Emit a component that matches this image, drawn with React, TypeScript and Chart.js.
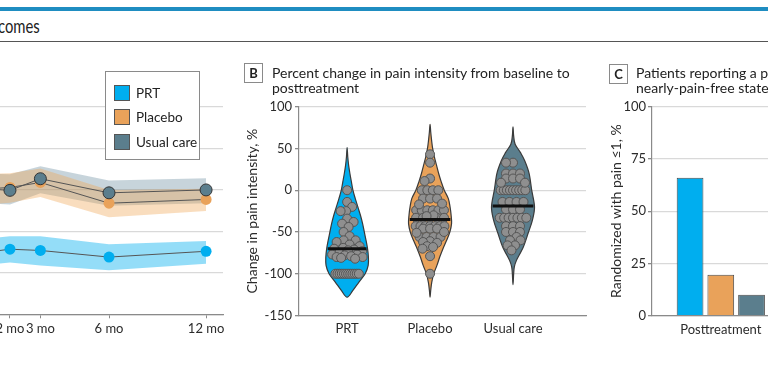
import React, { useEffect, useRef } from 'react';
import { Chart, registerables } from 'chart.js';
Chart.register(...registerables);

const FONT = "Lato, 'Liberation Sans', Arial, sans-serif";
const C_PRT = '#00aeef';
const C_PLA = '#e9a25a';
const C_USU = '#5b7e8d';
const GRID = '#d9d9d9';
const AXIS = '#8a8a8a';
const TXT = '#2b2b2b';

// ---------- Panel A: pain intensity over time ----------
const timeMonths = [1, 2, 3, 6, 12];
const axisMonths = [2, 3, 6, 12];
const axisLabels = ['2 mo', '3 mo', '6 mo', '12 mo'];
const prtMean = [1.45, 1.57, 1.54, 1.38, 1.52];
const prtLow = [1.15, 1.25, 1.18, 1.06, 1.22];
const prtHigh = [1.8, 1.88, 1.88, 1.69, 1.77];
const placeboMean = [3.0, 3.06, 3.18, 2.68, 2.77];
const placeboLow = [2.62, 2.69, 2.83, 2.34, 2.49];
const placeboHigh = [3.38, 3.4, 3.52, 3.0, 3.03];
const usualMean = [3.05, 2.99, 3.27, 2.93, 3.0];
const usualLow = [2.7, 2.65, 2.92, 2.62, 2.68];
const usualHigh = [3.4, 3.38, 3.57, 3.23, 3.28];

// ---------- Panel B: percent change violins ----------
const groupNames = ['PRT', 'Placebo', 'Usual care'];
const prtChange = [0, -14, -20, -25, -25, -34, -38, -40, -44, -50, -55, -60, -60, -62, -65, -67, -69, -70, -71, -72, -73, -75, -77, -77, -78, -79, -80, -80, -81, -82,
  -100, -100, -100, -100, -100, -100, -100, -100, -100, -100, -100, -100];
const placeboChange = [43, 33, 14, 11, 0, 0, 0, 0, -10, -10, -10, -16, -17, -24, -24, -24, -24, -24, -24, -30, -31,
  -33, -33, -33, -33, -33, -43, -43, -43, -43, -43, -43, -43, -46, -46, -46, -50, -51, -56, -56, -56, -56,
  -61, -62, -63, -67, -68, -70, -79, -100];
const usualChange = [33, 33, 20, 20, 20, 14, 14, 14, 9, 9, 0, 0, 0, 0, 0, 0, 0, 0, 0, -14, -14, -14, -14, -23, -23, -23,
  -33, -33, -33, -33, -33, -33, -33, -43, -43, -43, -50, -50, -50, -56, -60, -60, -66, -66, -72];
const changeMedians = [-70, -35, -19];
const prtDensY = [51, 40, 30, 20, 10, 0, -10, -20, -30, -40, -50, -60, -70, -80, -90, -100, -110, -120, -128];
const prtDens = [0, 0.03, 0.07, 0.13, 0.2, 0.27, 0.38, 0.5, 0.62, 0.72, 0.8, 0.88, 0.95, 0.99, 0.98, 0.84, 0.55, 0.27, 0];
const placeboDensY = [79, 70, 60, 50, 40, 30, 20, 10, 0, -10, -20, -30, -40, -50, -60, -70, -80, -90, -100, -110, -120, -128];
const placeboDens = [0, 0.03, 0.07, 0.12, 0.2, 0.3, 0.4, 0.52, 0.66, 0.85, 0.93, 0.98, 1.0, 0.92, 0.77, 0.6, 0.45, 0.32, 0.17, 0.08, 0.03, 0];
const usualDensY = [76, 65, 55, 45, 35, 20, 0, -20, -36, -51, -68, -84, -92, -100, -113];
const usualDens = [0, 0.03, 0.1, 0.35, 0.55, 0.75, 0.87, 1.0, 0.9, 0.71, 0.48, 0.16, 0.06, 0.03, 0];

// ---------- Panel C: pain-free bars ----------
const pfCategories = ['Posttreatment'];
const pfPRT = [66];
const pfPlacebo = [19.5];
const pfUsual = [10];

const VIOLIN_HALF = 21.5;
const DOT_R = 4.5;

function interp(xs: number[], ys: number[], v: number) {
  if (v >= xs[0]) return ys[0];
  if (v <= xs[xs.length - 1]) return ys[ys.length - 1];
  for (let i = 0; i < xs.length - 1; i++) {
    if (v <= xs[i] && v >= xs[i + 1]) {
      const t = (xs[i] - v) / (xs[i] - xs[i + 1]);
      return ys[i] + t * (ys[i + 1] - ys[i]);
    }
  }
  return 0;
}

function swarm(values: number[], yPix: (v: number) => number, halfW: (v: number) => number, r: number, D: number) {
  const counts = new Map<number, number>();
  values.forEach((v) => counts.set(v, (counts.get(v) || 0) + 1));
  const placed: { x: number; y: number }[] = [];
  counts.forEach((n, v) => {
    if (n < 3) return;
    const yy = yPix(v);
    const spread = Math.min(D * (n - 1), Math.max(0, 2 * (0.9 * halfW(v) - r)));
    for (let i = 0; i < n; i++) placed.push({ x: -spread / 2 + (spread * i) / (n - 1), y: yy });
  });
  const singles = values.filter((v) => (counts.get(v) as number) < 3).sort((a, b) => b - a);
  singles.forEach((v, idx) => {
    const yy = yPix(v);
    const lim = Math.max(0, 0.95 * halfW(v) - r);
    let best = 0;
    let bestScore = -1;
    let found = false;
    const sgn = idx % 2 === 0 ? 1 : -1;
    for (let s = 0; s <= lim + 1e-6 && !found; s += 0.5) {
      for (const c of s === 0 ? [0] : [sgn * s, -sgn * s]) {
        let score = Infinity;
        for (const p of placed) score = Math.min(score, Math.hypot(p.x - c, p.y - yy));
        if (score >= D) { best = c; found = true; break; }
        if (score > bestScore) { bestScore = score; best = c; }
      }
    }
    placed.push({ x: best, y: yy });
  });
  return placed;
}

const violinPlugin = {
  id: 'violins',
  afterDatasetsDraw(chart: any) {
    const { ctx, scales } = chart;
    const xs = scales.x;
    const ys = scales.y;
    const groups = [
      { vals: prtChange, dy: prtDensY, d: prtDens, color: C_PRT },
      { vals: placeboChange, dy: placeboDensY, d: placeboDens, color: C_PLA },
      { vals: usualChange, dy: usualDensY, d: usualDens, color: C_USU },
    ];
    ctx.save();
    groups.forEach((g, gi) => {
      const cx = xs.getPixelForValue(gi + 1);
      const hw = (v: number) => interp(g.dy, g.d, v) * VIOLIN_HALF;
      const right = g.dy.map((v, i) => [cx + g.d[i] * VIOLIN_HALF, ys.getPixelForValue(v)]);
      const left = g.dy.slice(1, -1).map((v, i) => [cx - g.d[i + 1] * VIOLIN_HALF, ys.getPixelForValue(v)]).reverse();
      const P = right.concat(left);
      const n = P.length;
      ctx.beginPath();
      ctx.moveTo(P[0][0], P[0][1]);
      for (let i = 0; i < n; i++) {
        const p0 = P[(i - 1 + n) % n], p1 = P[i], p2 = P[(i + 1) % n], p3 = P[(i + 2) % n];
        const c1x = p1[0] + (p2[0] - p0[0]) / 6, c1y = p1[1] + (p2[1] - p0[1]) / 6;
        const c2x = p2[0] - (p3[0] - p1[0]) / 6, c2y = p2[1] - (p3[1] - p1[1]) / 6;
        ctx.bezierCurveTo(c1x, c1y, c2x, c2y, p2[0], p2[1]);
      }
      ctx.closePath();
      ctx.fillStyle = g.color;
      ctx.fill();
      ctx.lineWidth = 1.2;
      ctx.strokeStyle = '#3a3a3a';
      ctx.stroke();

      const dots = swarm(g.vals, (v) => ys.getPixelForValue(v), hw, DOT_R, 7);
      dots.forEach((p) => {
        ctx.beginPath();
        ctx.arc(cx + p.x, p.y, DOT_R, 0, Math.PI * 2);
        ctx.fillStyle = '#8f8f8f';
        ctx.fill();
        ctx.lineWidth = 1;
        ctx.strokeStyle = '#555';
        ctx.stroke();
      });

      const m = changeMedians[gi];
      const mw = hw(m) - 1;
      const my = ys.getPixelForValue(m);
      ctx.beginPath();
      ctx.moveTo(cx - mw, my);
      ctx.lineTo(cx + mw, my);
      ctx.lineWidth = 3;
      ctx.strokeStyle = '#111';
      ctx.stroke();
    });
    ctx.restore();
  },
};

const tickFont = { family: FONT, size: 13 };
const labFont = { family: FONT, size: 13 };
const titleFont = { family: FONT, size: 14 };

function PanelA() {
  const ref = useRef<HTMLCanvasElement>(null);
  useEffect(() => {
    const H = 389;
    const pts = (arr: number[]) => timeMonths.map((m, i) => ({ x: Math.sqrt(m), y: arr[i] }));
    const band = (arr: number[], fill: any, bg: string) => ({
      data: pts(arr), fill, backgroundColor: bg, borderWidth: 0, pointRadius: 0, borderColor: 'rgba(0,0,0,0)',
    });
    const chart = new Chart(ref.current as HTMLCanvasElement, {
      type: 'line',
      data: {
        datasets: [
          { label: 'Usual care', data: pts(usualMean), borderColor: '#555', borderWidth: 1, pointRadius: 6,
            pointBackgroundColor: C_USU, pointBorderColor: '#333', pointBorderWidth: 1, fill: false },
          { label: 'Placebo', data: pts(placeboMean), borderColor: '#555', borderWidth: 1, pointRadius: 5.5,
            pointBackgroundColor: C_PLA, pointBorderColor: C_PLA, pointBorderWidth: 0, fill: false },
          { label: 'PRT', data: pts(prtMean), borderColor: '#555', borderWidth: 1, pointRadius: 5.5,
            pointBackgroundColor: C_PRT, pointBorderColor: C_PRT, pointBorderWidth: 0, fill: false },
          band(placeboHigh, '+1', 'rgba(240,165,85,0.38)'),
          band(placeboLow, false, 'rgba(0,0,0,0)'),
          band(usualHigh, '+1', 'rgba(100,135,155,0.36)'),
          band(usualLow, false, 'rgba(0,0,0,0)'),
          band(prtHigh, '+1', 'rgba(0,174,239,0.42)'),
          band(prtLow, false, 'rgba(0,0,0,0)'),
        ] as any,
      },
      options: {
        animation: false,
        responsive: false,
        layout: { padding: { top: 86.3, right: 6, left: 0, bottom: 0 } },
        plugins: { legend: { display: false }, tooltip: { enabled: false } },
        scales: {
          x: {
            type: 'linear', min: 1.31, max: 3.641,
            afterBuildTicks: (s: any) => { s.ticks = axisMonths.map((m) => ({ value: Math.sqrt(m) })); },
            afterFit: (s: any) => { s.height = H - 314.3; },
            ticks: { callback: (_v: any, i: number) => axisLabels[i], font: labFont, color: TXT, padding: 3, autoSkip: false, maxRotation: 0 },
            grid: { drawOnChartArea: false, drawTicks: true, tickLength: 4, tickColor: AXIS },
            border: { color: AXIS, width: 1.2 },
          },
          y: {
            type: 'linear', min: 0, max: 5.5,
            afterBuildTicks: (s: any) => { s.ticks = s.ticks.filter((t: any) => Number.isInteger(t.value)); },
            afterFit: (s: any) => { s.width = 60; },
            ticks: { display: false, stepSize: 1 },
            grid: { color: GRID, drawTicks: false, lineWidth: 1.3 },
            border: { display: false },
          },
        },
      } as any,
    });
    return () => chart.destroy();
  }, []);
  return <canvas ref={ref} width={290} height={389} style={{ position: 'absolute', left: -60, top: 0, width: 290, height: 389 }} />;
}

function PanelB() {
  const ref = useRef<HTMLCanvasElement>(null);
  useEffect(() => {
    const H = 389;
    const chart = new Chart(ref.current as HTMLCanvasElement, {
      type: 'scatter',
      data: { datasets: [] },
      plugins: [violinPlugin],
      options: {
        animation: false,
        responsive: false,
        layout: { padding: { top: 106.7, right: 14, left: 0, bottom: 0 } },
        plugins: { legend: { display: false }, tooltip: { enabled: false } },
        scales: {
          x: {
            type: 'linear', min: 0.42, max: 3.88,
            afterBuildTicks: (s: any) => { s.ticks = groupNames.map((_g, i) => ({ value: i + 1 })); },
            afterFit: (s: any) => { s.height = H - 315.5; },
            ticks: { callback: (_v: any, i: number) => groupNames[i], font: labFont, color: TXT, padding: 6, autoSkip: false, maxRotation: 0 },
            grid: { drawOnChartArea: false, drawTicks: false },
            border: { color: AXIS, width: 1.2 },
          },
          y: {
            type: 'linear', min: -150, max: 100,
            afterFit: (s: any) => { s.width = 69; },
            ticks: { stepSize: 50, font: tickFont, color: TXT, padding: 3 },
            grid: { color: GRID, tickLength: 4, tickColor: AXIS, lineWidth: 1.3 },
            border: { color: AXIS, width: 1.2 },
            title: { display: true, text: 'Change in pain intensity, %', font: titleFont, color: TXT, padding: { top: 13.6, bottom: 0 } },
          },
        },
      } as any,
    });
    return () => chart.destroy();
  }, []);
  return <canvas ref={ref} width={370} height={389} style={{ position: 'absolute', left: 230, top: 0, width: 370, height: 389 }} />;
}

function PanelC() {
  const ref = useRef<HTMLCanvasElement>(null);
  useEffect(() => {
    const H = 389;
    const ds = (label: string, data: number[], color: string) => ({
      label, data, backgroundColor: color, borderColor: '#4a4a4a', borderWidth: 1,
      categoryPercentage: 0.67, barPercentage: 0.87,
    });
    const chart = new Chart(ref.current as HTMLCanvasElement, {
      type: 'bar',
      data: {
        labels: pfCategories,
        datasets: [ds('PRT', pfPRT, C_PRT), ds('Placebo', pfPlacebo, C_PLA), ds('Usual care', pfUsual, C_USU)],
      },
      options: {
        animation: false,
        responsive: false,
        layout: { padding: { top: 106.7, right: 10.4, left: 0, bottom: 0 } },
        plugins: { legend: { display: false }, tooltip: { enabled: false } },
        scales: {
          x: {
            afterFit: (s: any) => { s.height = H - 315.6; },
            ticks: { font: labFont, color: TXT, padding: 6 },
            grid: { drawOnChartArea: false, drawTicks: false },
            border: { color: AXIS, width: 1.2 },
          },
          y: {
            min: 0, max: 100,
            afterFit: (s: any) => { s.width = 52; },
            ticks: { stepSize: 25, font: tickFont, color: TXT, padding: 2 },
            grid: { color: GRID, tickLength: 4, tickColor: AXIS, lineWidth: 1.3 },
            border: { color: AXIS, width: 1.2 },
            title: { display: true, text: 'Randomized with pain ≤1, %', font: titleFont, color: TXT, padding: { top: 7.6, bottom: 0 } },
          },
        },
      } as any,
    });
    return () => chart.destroy();
  }, []);
  return <canvas ref={ref} width={200} height={389} style={{ position: 'absolute', left: 600, top: 0, width: 200, height: 389 }} />;
}

const boxStyle: React.CSSProperties = {
  position: 'absolute', width: 17, height: 18, border: '1px solid #8a8a8a', background: '#fff',
  fontWeight: 700, fontSize: 13, lineHeight: '18px', textAlign: 'center', color: '#222',
};
const titleStyle: React.CSSProperties = {
  position: 'absolute', fontSize: 14, lineHeight: '15px', color: '#222', whiteSpace: 'nowrap',
};

function LegendItem({ color, label, top }: { color: string; label: string; top: number }) {
  return (
    <div style={{ position: 'absolute', left: 8, top, height: 16, display: 'flex', alignItems: 'center', whiteSpace: 'nowrap' }}>
      <div style={{ width: 14, height: 14, background: color, border: '1px solid #555', flex: 'none' }} />
      <span style={{ marginLeft: 6, fontSize: 13.5, color: '#222', lineHeight: '16px' }}>{label}</span>
    </div>
  );
}

export default function App() {
  return (
    <div style={{ position: 'absolute', left: 0, top: 0, width: 768, height: 389, overflow: 'hidden', background: '#fff', fontFamily: FONT }}>
      <div style={{ position: 'absolute', left: 0, top: 7, width: 768, height: 3.5, background: '#1f8dc1' }} />
      <div style={{ position: 'absolute', right: 728, top: 13, fontSize: 20, lineHeight: '24px', color: '#222', whiteSpace: 'nowrap', transform: 'scaleX(0.74)', transformOrigin: '100% 50%' }}>Figure 2. Pain Intensity Outcomes</div>
      <div style={{ position: 'absolute', left: 0, top: 40.5, width: 768, height: 1.5, background: '#555' }} />
      <PanelA />
      <PanelB />
      <PanelC />
      <div style={{ position: 'absolute', left: 105, top: 71, width: 93, height: 87, border: '1px solid #8a8a8a', background: '#fff' }}>
        <LegendItem color={C_PRT} label="PRT" top={12.5} />
        <LegendItem color={C_PLA} label="Placebo" top={37} />
        <LegendItem color={C_USU} label="Usual care" top={61.5} />
      </div>
      <div style={{ ...boxStyle, left: 244, top: 62.5 }}>B</div>
      <div style={{ ...titleStyle, left: 272, top: 64.5 }}>
        Percent change in pain intensity from baseline to<br />posttreatment
      </div>
      <div style={{ ...boxStyle, left: 609, top: 63.5 }}>C</div>
      <div style={{ ...titleStyle, left: 636, top: 64.5 }}>
        Patients reporting a pain-free or<br />nearly-pain-free state
      </div>
    </div>
  );
}
